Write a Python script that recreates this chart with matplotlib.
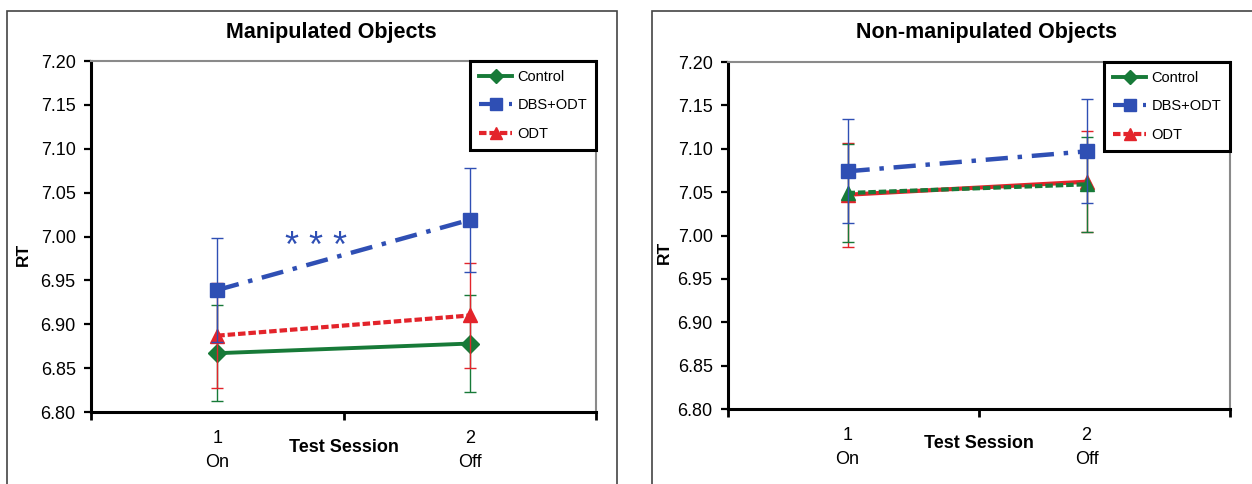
import matplotlib
matplotlib.use('Agg')
import matplotlib.pyplot as plt
from matplotlib.lines import Line2D
from matplotlib.patches import Rectangle
import numpy as np

plt.rcParams['font.family'] = ['Liberation Sans', 'DejaVu Sans']

sessions = [1, 2]
session_labels = ['1\nOn', '2\nOff']
groups = ['Control', 'DBS+ODT', 'ODT']

# Manipulated objects: means and error bars (SE)
man_control = [6.867, 6.878]
man_control_err = [0.055, 0.055]
man_dbs = [6.939, 7.019]
man_dbs_err = [0.059, 0.059]
man_odt = [6.887, 6.910]
man_odt_err = [0.060, 0.060]

# Non-manipulated objects
non_control = [7.049, 7.059]
non_control_err = [0.056, 0.055]
non_dbs = [7.074, 7.097]
non_dbs_err = [0.060, 0.060]
non_odt = [7.047, 7.062]
non_odt_err = [0.060, 0.058]

green = '#177a38'
blue = '#2f4fb4'
red = '#e3242b'
dashdot = (0, (5, 2.2, 1, 2.2))
dense = (0, (1.8, 0.7))

fig = plt.figure(figsize=(12.52, 4.84), dpi=100)

# outer panel frames
fig.patches.append(Rectangle((7/1252, -0.1), 610/1252, 1.1 - 11/484, transform=fig.transFigure,
                             fill=False, edgecolor='#444444', lw=1.2))
fig.patches.append(Rectangle((652/1252, -0.1), 0.5, 1.1 - 11/484, transform=fig.transFigure,
                             fill=False, edgecolor='#444444', lw=1.2))

ax1 = fig.add_axes([91/1252, 72/484, 505/1252, 351/484])
ax2 = fig.add_axes([728/1252, 75/484, 502/1252, 347/484])


def plot_series(ax, y, err, color, ls, marker, ms, lw, z):
    ax.errorbar(sessions, y, yerr=err, fmt='none', ecolor=color, elinewidth=1,
                capsize=4, capthick=1, zorder=z)
    ax.plot(sessions, y, color=color, ls=ls, lw=lw, marker=marker, ms=ms,
            mfc=color, mec=color, zorder=z + 1)


# left panel
plot_series(ax1, man_control, man_control_err, green, '-', 'D', 9, 2.8, 3)
plot_series(ax1, man_odt, man_odt_err, red, dense, '^', 10, 3.0, 4)
plot_series(ax1, man_dbs, man_dbs_err, blue, dashdot, 's', 10, 3.2, 5)
ax1.text(1.39, 6.988, '* * *', color=blue, fontsize=26, ha='center', va='center')

# right panel (lines appear swapped in style here)
plot_series(ax2, non_odt, non_odt_err, red, '-', '^', 10, 3.0, 3)
plot_series(ax2, non_control, non_control_err, green, dense, '^', 10, 3.0, 4)
plot_series(ax2, non_dbs, non_dbs_err, blue, dashdot, 's', 10, 3.2, 5)

handles = [
    Line2D([], [], color=green, ls='-', lw=2.8, marker='D', ms=7),
    Line2D([], [], color=blue, ls=dashdot, lw=3.0, marker='s', ms=8),
    Line2D([], [], color=red, ls=dense, lw=3.0, marker='^', ms=8),
]

titles = ['Manipulated Objects', 'Non-manipulated Objects']
for ax, title, xlim in [(ax1, titles[0], (0.5, 2.5)), (ax2, titles[1], (0.5, 2.6))]:
    ax.set_xlim(*xlim)
    ax.set_ylim(6.80, 7.20)
    ax.set_yticks(np.arange(6.80, 7.201, 0.05))
    ax.set_yticklabels(['%.2f' % v for v in np.arange(6.80, 7.201, 0.05)])
    ax.set_xticks(sessions)
    ax.set_xticklabels(session_labels, linespacing=1.55)
    ax.set_xticks([xlim[0], (xlim[0] + xlim[1]) / 2, xlim[1]], minor=True)
    ax.tick_params(axis='x', which='major', length=0, pad=13, labelsize=13)
    ax.tick_params(axis='x', which='minor', length=6, width=2, direction='out')
    ax.tick_params(axis='y', length=5, width=1.6, direction='out', labelsize=13, pad=6)
    for s in ['left', 'bottom']:
        ax.spines[s].set_linewidth(2.2)
        ax.spines[s].set_color('black')
    for s in ['top', 'right']:
        ax.spines[s].set_linewidth(1.5)
        ax.spines[s].set_color('#8a8a8a')
    ax.set_ylabel('RT', fontsize=12.5, fontweight='bold')
    ax.text(0.5, -0.1, 'Test Session', transform=ax.transAxes, ha='center', va='center',
            fontsize=13, fontweight='bold')
    leg = ax.legend(handles, groups, loc='upper right', bbox_to_anchor=(1.0, 1.0),
                    borderaxespad=0, fontsize=10.5, handlelength=2.3, handletextpad=0.35,
                    labelspacing=1.0, borderpad=0.6, fancybox=False, framealpha=1)
    leg.get_frame().set_edgecolor('black')
    leg.get_frame().set_linewidth(2.2)

ax1.yaxis.set_label_coords(-0.12, 0.45)
ax2.yaxis.set_label_coords(-0.112, 0.45)

fig.text(331/1252, 1 - 33/484, titles[0], ha='center', va='center', fontsize=15.5, fontweight='bold')
fig.text(986/1252, 1 - 33/484, titles[1], ha='center', va='center', fontsize=15.5, fontweight='bold')

fig.savefig('out.png', dpi=100)
